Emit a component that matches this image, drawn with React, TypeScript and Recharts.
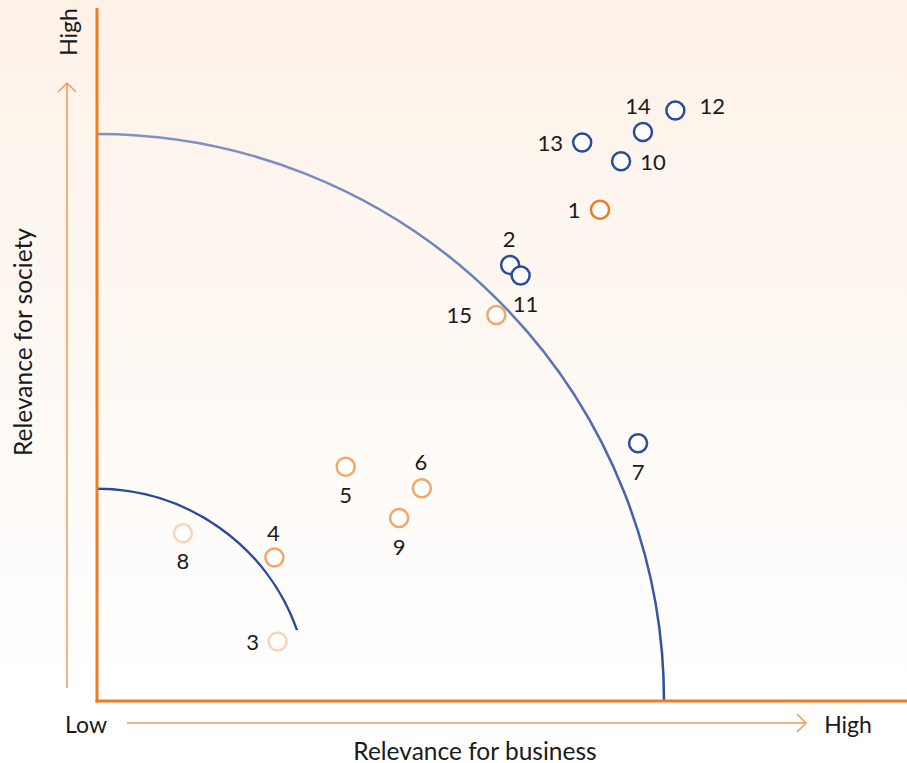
import React from "react";
import * as R from "recharts";

const { ScatterChart, Scatter, XAxis, YAxis, Customized } = R;

// materiality topics
const topicIds = [1, 2, 3, 4, 5, 6, 7, 8, 9, 10, 11, 12, 13, 14, 15];
const businessRelevance = [62.1, 51.0, 22.3, 21.9, 30.7, 40.1, 66.8, 10.6, 37.3, 64.7, 52.3, 71.4, 59.9, 67.4, 49.3];
const societyRelevance = [70.9, 62.9, 8.6, 20.7, 33.8, 30.7, 37.2, 24.2, 26.4, 77.9, 61.4, 85.2, 80.6, 82.1, 55.7];
const topicLevel = ["medium", "high", "minor", "low", "low", "low", "high", "minor", "low", "high", "high", "high", "high", "high", "low"];

// threshold arcs, radius in business-relevance units
const outerThreshold = 70.0;
const innerThreshold = 26.2;
const innerArcEndDeg = 19.5;

const levelColor: Record<string, string> = {
  high: "#2b4a9b",
  medium: "#ee7d22",
  low: "#f3a66a",
  minor: "#f9d4b6",
};

// label offset from the marker, in px
const labelOffset: Record<number, [number, number]> = {
  1: [-26, 0], 2: [-1, -27], 3: [-25, 0], 4: [-1, -25], 5: [0, 28],
  6: [-1, -27], 7: [0, 28], 8: [0, 27], 9: [0, 28], 10: [32, 0],
  11: [5, 28], 12: [37, -5], 13: [-32, 0], 14: [-5, -27], 15: [-37, 0],
};

const data = topicIds.map((id, i) => ({
  id,
  x: businessRelevance[i],
  y: societyRelevance[i],
  level: topicLevel[i],
}));

const FONT = "Lato, 'Open Sans', sans-serif";
const AXIS_ORANGE = "#ee7d22";
const ARROW_ORANGE = "#f29a55";

const usePlot: any = (R as any).usePlotArea;

function Overlay() {
  const area = usePlot ? usePlot() : null;
  const x0 = area?.x ?? 97;
  const y0 = area?.y ?? 8;
  const w = area?.width ?? 810;
  const h = area?.height ?? 693;
  const cx = x0;
  const cy = y0 + h;
  const k = w / 100;
  const rOut = outerThreshold * k;
  const rIn = innerThreshold * k;
  const a = (innerArcEndDeg * Math.PI) / 180;
  return (
    <g>
      <defs>
        <linearGradient id="arcGrad" gradientUnits="userSpaceOnUse" x1={0} y1={cy - rOut} x2={0} y2={cy}>
          <stop offset="0%" stopColor="#8092c3" />
          <stop offset="55%" stopColor="#4f67ad" />
          <stop offset="100%" stopColor="#2b4c9e" />
        </linearGradient>
      </defs>
      <path
        d={`M ${cx} ${cy - rOut} A ${rOut} ${rOut} 0 0 1 ${cx + rOut} ${cy}`}
        fill="none"
        stroke="url(#arcGrad)"
        strokeWidth={2.5}
      />
      <path
        d={`M ${cx} ${cy - rIn} A ${rIn} ${rIn} 0 0 1 ${cx + rIn * Math.cos(a)} ${cy - rIn * Math.sin(a)}`}
        fill="none"
        stroke="#2b4a9b"
        strokeWidth={2.5}
      />
      {/* axis lines */}
      <line x1={x0} y1={y0} x2={x0} y2={cy + 1.5} stroke={AXIS_ORANGE} strokeWidth={3} />
      <line x1={x0 - 1.5} y1={cy} x2={x0 + w} y2={cy} stroke={AXIS_ORANGE} strokeWidth={3} />
      {/* x axis arrow + labels */}
      <line x1={127} y1={723} x2={806} y2={723} stroke={ARROW_ORANGE} strokeWidth={1.5} />
      <polyline points="797,714 806,723 797,732" fill="none" stroke={ARROW_ORANGE} strokeWidth={1.5} />
      <text x={86} y={724} textAnchor="middle" dominantBaseline="central" fontSize={23} fontFamily={FONT} fill="#1a1a1a">Low</text>
      <text x={848} y={724} textAnchor="middle" dominantBaseline="central" fontSize={23} fontFamily={FONT} fill="#1a1a1a">High</text>
      <text x={475} y={750} textAnchor="middle" dominantBaseline="central" fontSize={24.5} fontFamily={FONT} fill="#1a1a1a">Relevance for business</text>
      {/* y axis arrow + labels */}
      <line x1={67} y1={688} x2={67} y2={83} stroke={ARROW_ORANGE} strokeWidth={1.5} />
      <polyline points="58,92 67,83 76,92" fill="none" stroke={ARROW_ORANGE} strokeWidth={1.5} />
      <text x={68} y={32} textAnchor="middle" dominantBaseline="central" fontSize={23} fontFamily={FONT} fill="#1a1a1a" transform="rotate(-90 68 32)">High</text>
      <text x={22} y={342} textAnchor="middle" dominantBaseline="central" fontSize={24.5} fontFamily={FONT} fill="#1a1a1a" transform="rotate(-90 22 342)">Relevance for society</text>
    </g>
  );
}

const TopicDot = (props: any) => {
  const { cx, cy, payload } = props;
  if (cx == null || cy == null) return null;
  const [dx, dy] = labelOffset[payload.id] ?? [0, -26];
  return (
    <g>
      <circle cx={cx} cy={cy} r={9} fill="#ffffff" stroke={levelColor[payload.level]} strokeWidth={2.5} />
      <text
        x={cx + dx}
        y={cy + dy}
        textAnchor="middle"
        dominantBaseline="central"
        fontSize={22}
        fontFamily={FONT}
        fill="#1a1a1a"
      >
        {payload.id}
      </text>
    </g>
  );
};

export default function App() {
  return (
    <div
      style={{
        position: "absolute",
        left: 0,
        top: 0,
        width: 907,
        height: 763,
        background: "linear-gradient(180deg, #fdf2e8 0%, #fef8f3 45%, #ffffff 90%)",
      }}
    >
      <ScatterChart width={907} height={763} margin={{ top: 8, right: 0, left: 97, bottom: 62 }}>
        <XAxis type="number" dataKey="x" domain={[0, 100]} hide />
        <YAxis type="number" dataKey="y" domain={[0, 100]} hide />
        <Customized component={<Overlay />} />
        <Scatter data={data} shape={<TopicDot />} isAnimationActive={false} />
      </ScatterChart>
    </div>
  );
}
